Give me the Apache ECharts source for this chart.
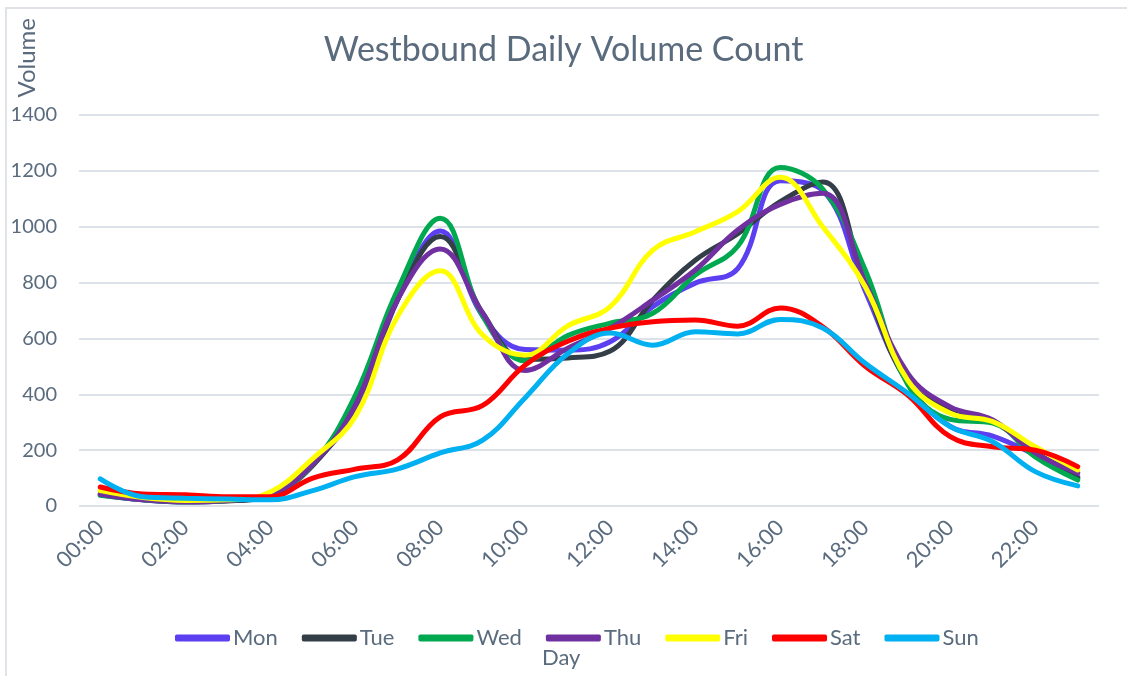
<!DOCTYPE html>
<html>
<head>
<meta charset="utf-8">
<script src="https://cdn.jsdelivr.net/npm/echarts@6/dist/echarts.min.js"></script>
<style>
  html, body { margin: 0; padding: 0; background: #fff; overflow: hidden; }
  #frame { position: absolute; left: 5px; top: 7px; width: 1300px; height: 900px; border: 2px solid #dfe3e8; }
  #main { position: absolute; left: 0; top: 0; width: 1127px; height: 676px; }
</style>
</head>
<body>
<div id="frame"></div>
<div id="main"></div>
<script>
const hours = ['00:00', '01:00', '02:00', '03:00', '04:00', '05:00', '06:00', '07:00', '08:00', '09:00', '10:00', '11:00',
  '12:00', '13:00', '14:00', '15:00', '16:00', '17:00', '18:00', '19:00', '20:00', '21:00', '22:00', '23:00']

const mon = [40, 22, 14, 20, 40, 150, 345, 740, 985, 680, 560, 558, 588, 714, 798, 850, 1165, 1130, 770, 440, 285, 250, 183, 105]
const tue = [45, 25, 15, 18, 38, 145, 360, 740, 965, 690, 525, 530, 555, 737, 880, 975, 1090, 1160, 795, 445, 350, 305, 194, 100]
const wed = [38, 22, 15, 20, 40, 150, 395, 775, 1030, 680, 520, 610, 655, 690, 827, 930, 1212, 1135, 845, 435, 310, 297, 176, 93]
const thu = [42, 22, 15, 20, 40, 150, 360, 740, 920, 690, 485, 565, 637, 737, 845, 988, 1080, 1120, 800, 475, 355, 308, 190, 118]
const fri = [55, 30, 20, 22, 50, 170, 320, 680, 842, 612, 540, 645, 714, 916, 982, 1054, 1177, 1000, 785, 450, 332, 302, 212, 129]
const sat = [68, 43, 40, 33, 33, 100, 132, 165, 319, 360, 505, 590, 637, 660, 666, 644, 709, 642, 500, 397, 248, 212, 200, 141]
const sun = [97, 33, 28, 25, 22, 55, 105, 133, 190, 236, 388, 545, 619, 576, 624, 616, 668, 637, 511, 404, 284, 230, 123, 72]

const days = ['Mon', 'Tue', 'Wed', 'Thu', 'Fri', 'Sat', 'Sun']
const values = [mon, tue, wed, thu, fri, sat, sun]
const colors = ['#5b3ff0', '#343e48', '#00a84f', '#7030a0', '#ffff00', '#ff0000', '#00b0f0']

const textColor = '#5a6b7e'
const font = 'Lato, "Open Sans", sans-serif'

const chart = echarts.init(document.getElementById('main'))

const option = {
  color: colors,
  animation: false,
  textStyle: { fontFamily: font },
  title: {
    text: 'Westbound Daily Volume Count',
    left: 'center',
    top: 28,
    textStyle: { fontFamily: font, fontSize: 34, fontWeight: 'normal', color: textColor }
  },
  legend: {
    data: days,
    bottom: 22,
    left: 170,
    itemWidth: 55,
    itemHeight: 7,
    itemGap: 24,
    icon: 'roundRect',
    textStyle: { fontFamily: font, fontSize: 22, color: textColor, padding: [0, 0, 0, -2] }
  },
  graphic: [
    {
      type: 'text',
      left: 15,
      top: 18,
      rotation: Math.PI / 2,
      style: { text: 'Volume', fontFamily: font, fontSize: 24, fill: textColor }
    },
    {
      type: 'text',
      left: 542,
      top: 647,
      style: { text: 'Day', fontFamily: font, fontSize: 22, fill: textColor }
    }
  ],
  grid: { left: 79, right: 28, top: 115, bottom: 170, containLabel: false },
  xAxis: {
    type: 'category',
    data: hours,
    boundaryGap: true,
    axisLine: { show: false },
    axisTick: { show: false },
    axisLabel: {
      interval: 1,
      rotate: 45,
      margin: 18,
      fontFamily: font,
      fontSize: 22,
      color: textColor
    }
  },
  yAxis: {
    type: 'value',
    min: 0,
    max: 1400,
    interval: 200,
    axisLine: { show: false },
    axisTick: { show: false },
    axisLabel: { margin: 22, fontFamily: font, fontSize: 20, color: textColor, formatter: v => String(v) },
    splitLine: { lineStyle: { color: '#dde2e8', width: 2 } }
  },
  series: days.map((d, i) => ({
    name: d,
    type: 'line',
    data: values[i],
    smooth: 0.4,
    symbol: 'none',
    lineStyle: { width: 5, cap: 'round' }
  }))
}

chart.setOption(option)
</script>
</body>
</html>
